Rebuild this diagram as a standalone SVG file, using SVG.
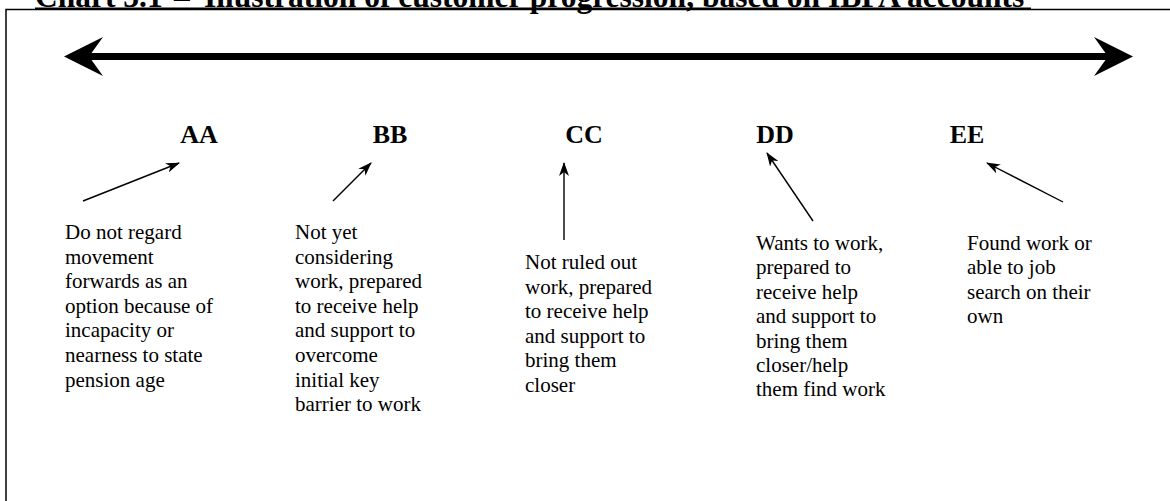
<svg xmlns="http://www.w3.org/2000/svg" width="1170" height="501" viewBox="0 0 1170 501">
<style>
  .title{font-family:"Liberation Serif","Times New Roman",serif;font-weight:bold;font-size:31.5px;fill:#000}
  .lbl{font-family:"Liberation Serif","Times New Roman",serif;font-weight:bold;font-size:26px;fill:#000;text-anchor:middle}
  .desc{font-family:"Liberation Serif","Times New Roman",serif;font-size:21px;fill:#000}
  .conn{stroke:#000;stroke-width:1.4;fill:none;marker-end:url(#ah)}
</style>
<defs>
  <marker id="ah" viewBox="0 0 14 10" refX="13" refY="5" markerWidth="14" markerHeight="10" markerUnits="userSpaceOnUse" orient="auto">
    <path d="M0,0 L14,5 L0,10 L4,5 Z" fill="#000"/>
  </marker>
</defs>
<rect x="0" y="0" width="1170" height="501" fill="#fff"/>
<g id="title">
  <text class="title" x="35" y="6.5">Chart 3.1</text>
  <text class="title" x="174" y="6.5">–</text>
  <text class="title" x="204" y="6.5">Illustration of customer progression, based on IBPA accounts</text>
  <line x1="35" y1="8.2" x2="1031" y2="8.2" stroke="#000" stroke-width="1.5"/>
</g>
<rect id="frame" x="6" y="9.5" width="1200" height="600" fill="none" stroke="#000" stroke-width="1.5"/>
<g id="scale">
  <line x1="88" y1="56.5" x2="1110" y2="56.5" stroke="#000" stroke-width="7"/>
  <polygon points="64,56.5 103,37 89,56.5 103,76" fill="#000"/>
  <polygon points="1133,56.5 1094,37 1108,56.5 1094,76" fill="#000"/>
</g>
<g id="connectors">
  <line class="conn" x1="83" y1="201" x2="179" y2="163"/>
  <line class="conn" x1="333" y1="201" x2="371" y2="163"/>
  <line class="conn" x1="564" y1="240" x2="564" y2="163"/>
  <line class="conn" x1="813" y1="221" x2="767" y2="153"/>
  <line class="conn" x1="1063" y1="202" x2="987" y2="163"/>
</g>
<g id="AA">
  <text class="lbl" x="199" y="143">AA</text>
  <text class="desc" x="65" y="239">Do not regard</text>
  <text class="desc" x="65" y="263.6">movement</text>
  <text class="desc" x="65" y="288.2">forwards as an</text>
  <text class="desc" x="65" y="312.8">option because of</text>
  <text class="desc" x="65" y="337.4">incapacity or</text>
  <text class="desc" x="65" y="362">nearness to state</text>
  <text class="desc" x="65" y="386.6">pension age</text>
</g>
<g id="BB">
  <text class="lbl" x="390" y="143">BB</text>
  <text class="desc" x="295" y="239">Not yet</text>
  <text class="desc" x="295" y="263.6">considering</text>
  <text class="desc" x="295" y="288.2">work, prepared</text>
  <text class="desc" x="295" y="312.8">to receive help</text>
  <text class="desc" x="295" y="337.4">and support to</text>
  <text class="desc" x="295" y="362">overcome</text>
  <text class="desc" x="295" y="386.6">initial key</text>
  <text class="desc" x="295" y="411.2">barrier to work</text>
</g>
<g id="CC">
  <text class="lbl" x="584" y="143">CC</text>
  <text class="desc" x="525" y="269">Not ruled out</text>
  <text class="desc" x="525" y="293.5">work, prepared</text>
  <text class="desc" x="525" y="318">to receive help</text>
  <text class="desc" x="525" y="342.5">and support to</text>
  <text class="desc" x="525" y="367">bring them</text>
  <text class="desc" x="525" y="391.5">closer</text>
</g>
<g id="DD">
  <text class="lbl" x="775" y="143">DD</text>
  <text class="desc" x="756" y="250">Wants to work,</text>
  <text class="desc" x="756" y="274.4">prepared to</text>
  <text class="desc" x="756" y="298.8">receive help</text>
  <text class="desc" x="756" y="323.2">and support to</text>
  <text class="desc" x="756" y="347.6">bring them</text>
  <text class="desc" x="756" y="372">closer/help</text>
  <text class="desc" x="756" y="396.4">them find work</text>
</g>
<g id="EE">
  <text class="lbl" x="967" y="143">EE</text>
  <text class="desc" x="967" y="250">Found work or</text>
  <text class="desc" x="967" y="274.4">able to job</text>
  <text class="desc" x="967" y="298.8">search on their</text>
  <text class="desc" x="967" y="323.2">own</text>
</g>
</svg>
